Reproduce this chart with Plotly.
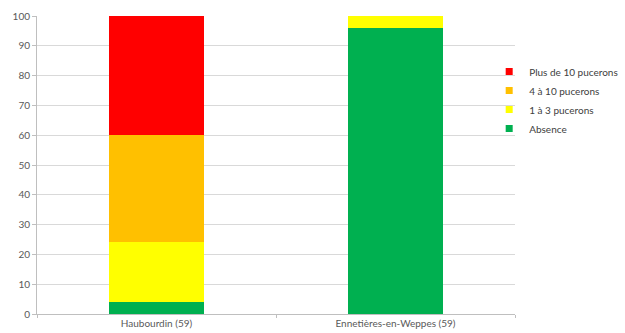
import plotly.graph_objects as go

categories = ["Haubourdin (59)", "Ennetières-en-Weppes (59)"]
series_names = ["Absence", "1 à 3 pucerons", "4 à 10 pucerons", "Plus de 10 pucerons"]
absence = [4, 96]
un_a_trois = [20, 4]
quatre_a_dix = [36, 0]
plus_de_dix = [40, 0]
colors = ["#00b050", "#ffff00", "#ffc000", "#ff0000"]
y_ticks = [0, 10, 20, 30, 40, 50, 60, 70, 80, 90, 100]

fig = go.Figure()
for name, vals, col in zip(series_names, [absence, un_a_trois, quatre_a_dix, plus_de_dix], colors):
    fig.add_trace(go.Bar(x=categories, y=vals, name=name, marker=dict(color=col, line=dict(width=0)),
                         width=0.4, showlegend=False, legendgroup=name))
    fig.add_trace(go.Scatter(x=[None], y=[None], mode="markers", name=name, legendgroup=name,
                             marker=dict(symbol="square", size=7, color=col)))

fig.update_layout(
    barmode="stack",
    width=625, height=333,
    margin=dict(l=37, r=110, t=16, b=19, autoexpand=False),
    paper_bgcolor="white", plot_bgcolor="white",
    font=dict(family="Lato, Open Sans, sans-serif", size=10, color="#595959"),
    showlegend=True,
    legend=dict(traceorder="reversed", x=0.946, xanchor="left", y=0.862, yanchor="top",
                font=dict(size=10, color="#404040"), itemwidth=30, tracegroupgap=0,
                bgcolor="rgba(0,0,0,0)"),
    xaxis=dict(showline=True, linecolor="#bfbfbf", linewidth=1, ticks="outside", tickson="boundaries",
               ticklen=3, tickcolor="#bfbfbf", showgrid=False, automargin=False,
               tickfont=dict(size=10, color="#595959")),
    yaxis=dict(range=[0, 100], tickvals=y_ticks, showgrid=True, gridcolor="#d9d9d9", gridwidth=1,
               showline=True, linecolor="#bfbfbf", ticks="outside", ticklen=4, tickcolor="#bfbfbf",
               zeroline=False, automargin=False, tickfont=dict(size=10, color="#595959")),
)

fig.write_html("out.html")
